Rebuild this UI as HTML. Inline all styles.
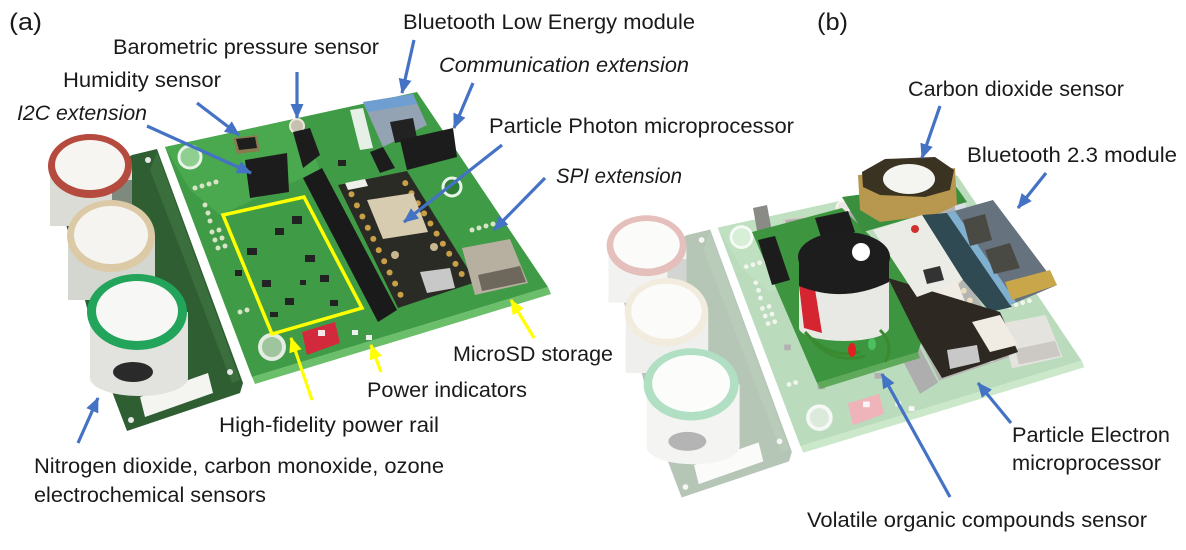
<!DOCTYPE html>
<html><head><meta charset="utf-8"><style>
html,body{margin:0;padding:0;background:#fff;}
svg{display:block}
text{font-family:"Liberation Sans",sans-serif;font-size:21px;fill:#1a1a1a}
.i{font-style:italic}
</style></head><body>
<svg width="1186" height="550" viewBox="0 0 1186 550" xmlns="http://www.w3.org/2000/svg">
<defs>
<marker id="mb" markerUnits="userSpaceOnUse" markerWidth="15" markerHeight="13" refX="14" refY="6.5" orient="auto"><path d="M0,0 L15,6.5 L0,13 z" fill="#4472c4"/></marker>
<marker id="my" markerUnits="userSpaceOnUse" markerWidth="15" markerHeight="13" refX="14" refY="6.5" orient="auto"><path d="M0,0 L15,6.5 L0,13 z" fill="#ffff00"/></marker>
</defs>
<rect width="1186" height="550" fill="#fff"/>

<g id="pa">
 <!-- sensor board -->
 <polygon points="132,155 157,149 243,383 240,393 127,431 100,360 60,200" fill="#2f5e33"/>
 <polygon points="150,170 157,152 240,380 232,383" fill="#3a6e3c"/>
 <polygon points="140,397 208,373 213,393 145,417" fill="#f4f4f0"/>
 <circle cx="230" cy="372" r="3" fill="#e8e8e8"/>
 <circle cx="131" cy="420" r="3" fill="#e8e8e8"/>
 <circle cx="148" cy="160" r="3" fill="#e8e8e8"/>
 <!-- main board -->
 <polygon points="252,377 548,287 551,294 255,384" fill="#6cbf6a"/>
 <polygon points="165,147 417,92 548,287 252,377" fill="#3f9b45"/>
 <polygon points="165,147 300,118 320,170 220,215 190,190" fill="#4aa84f"/>
 <circle cx="190" cy="157" r="11" fill="#8fcf8f" stroke="#e8f4e8" stroke-width="3"/>
 <circle cx="272" cy="347" r="12" fill="#9ec59e" stroke="#e4ece4" stroke-width="4"/>
 <circle cx="452" cy="187" r="9" fill="#2f7e35" stroke="#e8f4e8" stroke-width="3"/>
 <g fill="#d8e4c8"><circle cx="195" cy="188" r="2.5"/><circle cx="202" cy="186" r="2.5"/><circle cx="209" cy="184" r="2.5"/><circle cx="216" cy="182" r="2.5"/>
 <circle cx="205" cy="205" r="2.5"/><circle cx="208" cy="213" r="2.5"/><circle cx="210" cy="221" r="2.5"/>
 <circle cx="212" cy="232" r="2.5"/><circle cx="219" cy="230" r="2.5"/><circle cx="215" cy="240" r="2.5"/><circle cx="222" cy="238" r="2.5"/><circle cx="218" cy="248" r="2.5"/><circle cx="225" cy="246" r="2.5"/>
 <circle cx="240" cy="312" r="2.5"/><circle cx="247" cy="310" r="2.5"/><circle cx="472" cy="230" r="2.5"/><circle cx="479" cy="228" r="2.5"/><circle cx="486" cy="226" r="2.5"/><circle cx="493" cy="224" r="2.5"/></g>
 <!-- chips in power rail -->
 <g fill="#222">
  <rect x="247" y="248" width="10" height="7"/><rect x="275" y="228" width="9" height="7"/><rect x="292" y="216" width="10" height="8"/>
  <rect x="262" y="280" width="9" height="7"/><rect x="305" y="255" width="10" height="7"/><rect x="320" y="275" width="9" height="7"/>
  <rect x="285" y="298" width="9" height="7"/><rect x="330" y="300" width="8" height="6"/><rect x="300" y="280" width="6" height="5"/>
  <rect x="270" y="312" width="8" height="5"/><rect x="235" y="270" width="7" height="6"/><rect x="338" y="160" width="8" height="6"/>
 </g>
 <!-- humidity chip -->
 <polygon points="233,138 257,135 260,151 237,154" fill="#8a7a50"/>
 <polygon points="236,139 255,137 257,148 239,150" fill="#1e1e1e"/>
 <!-- baro -->
 <circle cx="297" cy="126" r="7" fill="#c8c0b0" stroke="#efe8dc" stroke-width="2"/>
 <!-- white strip -->
 <polygon points="350,110 363,108 373,148 360,150" fill="#e6f0e6"/>
 <!-- BLE module -->
 <polygon points="363,102 413,94 427,125 383,147" fill="#93a3b3"/>
 <polygon points="363,102 413,94 417,104 368,112" fill="#6f9ed0"/>
 <polygon points="390,122 413,118 417,138 395,143" fill="#222"/>
 <!-- headers -->
 <polygon points="400,140 453,128 457,157 407,170" fill="#1c1c1c"/>
 <polygon points="370,152 383,147 395,168 380,173" fill="#1c1c1c"/>
 <polygon points="245,160 287,153 289,192 250,198" fill="#1c1c1c"/>
 <polygon points="293,132 310,128 320,155 303,168" fill="#1c1c1c"/>
 <polygon points="303,178 322,168 397,310 378,322" fill="#1a1a1a"/>
 <!-- photon -->
 <polygon points="338,185 407,171 476,282 398,308" fill="#2b2b26"/>
 <g fill="#c9a046">
  <circle cx="351.5" cy="194.2" r="3"/><circle cx="356.9" cy="205.4" r="3"/><circle cx="362.4" cy="216.5" r="3"/><circle cx="367.8" cy="227.7" r="3"/><circle cx="373.3" cy="238.9" r="3"/><circle cx="378.7" cy="250.1" r="3"/><circle cx="384.2" cy="261.3" r="3"/><circle cx="389.6" cy="272.5" r="3"/><circle cx="395.1" cy="283.6" r="3"/><circle cx="400.5" cy="294.8" r="3"/>
  <circle cx="405.3" cy="183.1" r="3"/><circle cx="411.5" cy="193.2" r="3"/><circle cx="417.8" cy="203.3" r="3"/><circle cx="424.1" cy="213.4" r="3"/><circle cx="430.4" cy="223.5" r="3"/><circle cx="436.6" cy="233.6" r="3"/><circle cx="442.9" cy="243.7" r="3"/><circle cx="449.2" cy="253.8" r="3"/><circle cx="455.5" cy="263.9" r="3"/><circle cx="461.7" cy="274.0" r="3"/>
 </g>
 <polygon points="367,200 413,193 428,232 383,239" fill="#d7cbb0"/>
 <polygon points="345,183 365,179 368,186 348,190" fill="#eeeeea"/>
 <circle cx="395" cy="255" r="4" fill="#c8b890"/><circle cx="434" cy="247" r="4" fill="#c8b890"/>
 <polygon points="420,272 450,268 455,288 427,293" fill="#c8c8c8"/>
 <!-- microSD -->
 <polygon points="462,248 510,239 528,283 475,295" fill="#b7b0a0"/>
 <polygon points="478,275 520,266 526,282 482,291" fill="#6e685c"/>
 <!-- switch -->
 <polygon points="302,332 335,322 340,343 307,355" fill="#d22a3c"/>
 <rect x="318" y="330" width="7" height="6" fill="#f4e8e8"/>
 <rect x="352" y="330" width="6" height="5" fill="#f0f0f0"/>
 <rect x="366" y="335" width="6" height="5" fill="#f0f0f0"/>
 <!-- cylinders -->
 <rect x="50" y="166" width="82" height="60" fill="#dcdcd6"/>
 <rect x="112" y="180" width="20" height="40" fill="#7f8a7f"/>
 <ellipse cx="90" cy="166" rx="42" ry="32" fill="#b54a3e"/>
 <ellipse cx="90" cy="165" rx="35" ry="25" fill="#f6f5f2"/>
 <rect x="68" y="236" width="87" height="64" fill="#d4d6d0"/>
 <ellipse cx="111" cy="236" rx="44" ry="36" fill="#dccaa6"/>
 <ellipse cx="111" cy="235" rx="37" ry="29" fill="#f5f4f1"/>
 <rect x="90" y="312" width="98" height="66" fill="#e2e2de"/>
 <ellipse cx="139" cy="378" rx="49" ry="18" fill="#e2e2de"/>
 <ellipse cx="133" cy="372" rx="20" ry="10" fill="#2a2a2a"/>
 <ellipse cx="137" cy="312" rx="50" ry="38" fill="#22a55a"/>
 <ellipse cx="137" cy="311" rx="41" ry="30" fill="#f7f7f5"/>
</g>

<!-- yellow box -->
<polygon points="223,215 304,197 362,308 272,334" fill="none" stroke="#ffff00" stroke-width="3.5"/>

<!-- photo b: faded base -->
<use href="#pa" transform="translate(561,88) scale(0.95)" opacity="0.35"/>

<!-- photo b: top board -->
<polygon points="753,208 767,205 772,232 758,236" fill="#8a8a86"/>
<polygon points="817,383 918,352 920,358 820,389" fill="#5ea95a"/>
<polygon points="752,232 842,208 935,300 918,352 817,383" fill="#3d9540"/>
<polygon points="758,240 775,236 790,280 772,285" fill="#1c1c1c"/>
<polygon points="815,218 848,211 855,232 822,240" fill="#1c1c1c"/>
<!-- CO2 -->
<polygon points="842,197 953,182 967,202 863,232" fill="#3a8f3e"/>
<polygon points="858,175 955,168 957,205 935,215 880,222 860,210" fill="#b8984e"/>
<polygon points="862,172 885,159 935,157 954,170 950,190 925,197 880,195 863,187" fill="#3b3322"/>
<ellipse cx="909" cy="179" rx="26" ry="15" fill="#f4f4f0"/>
<!-- gap between u-blox and BT -->
<polygon points="922,215 947,213 1012,307 990,312 963,280" fill="#2f4a52"/>
<!-- BT module -->
<polygon points="947,213 993,200 1057,285 1010,305" fill="#66727e"/>
<polygon points="947,213 955,211 1016,302 1010,305" fill="#7fb0d0"/>
<polygon points="963,220 985,214 992,240 970,246" fill="#4a4a44"/>
<polygon points="985,250 1010,243 1020,268 994,274" fill="#4a4a44"/>
<polygon points="1005,282 1050,270 1057,285 1012,300" fill="#c9a64a"/>
<!-- electron -->
<polygon points="888,278 1000,312 1018,352 942,378 918,338" fill="#2d2822"/>
<polygon points="972,322 1000,315 1018,345 990,352" fill="#f0ece4"/>
<polygon points="947,350 977,345 980,362 950,369" fill="#c8c8c8"/>
<!-- u-blox -->
<polygon points="873,230 922,215 963,280 917,297" fill="#ecece6"/>
<circle cx="915" cy="229" r="4" fill="#d03030"/>
<polygon points="923,270 940,266 944,280 927,284" fill="#333"/>
<!-- VOC -->
<rect x="799" y="258" width="90" height="70" fill="#e8e8e4"/>
<ellipse cx="844" cy="328" rx="45" ry="13" fill="#e8e8e4"/>
<polygon points="799,285 814,283 822,333 804,328" fill="#d42530"/>
<path d="M799,258 L799,286 Q844,304 889,282 L889,258 z" fill="#1d1d1d"/>
<ellipse cx="844" cy="257" rx="46" ry="25" fill="#1d1d1d"/>
<circle cx="861" cy="252" r="9" fill="#ffffff"/>
<path d="M805,332 Q830,360 860,352 M812,340 Q835,365 865,356 M880,330 Q895,345 885,362" stroke="#3a8a30" stroke-width="3" fill="none"/>
<ellipse cx="852" cy="350" rx="4" ry="7" fill="#e02020"/>
<ellipse cx="872" cy="344" rx="4" ry="6" fill="#4cc060"/>

<!-- arrows -->
<g stroke="#4472c4" stroke-width="3.2" fill="none">
 <line x1="147" y1="126" x2="251" y2="173" marker-end="url(#mb)"/>
 <line x1="197" y1="103" x2="239" y2="135" marker-end="url(#mb)"/>
 <line x1="297" y1="72" x2="297" y2="118" marker-end="url(#mb)"/>
 <line x1="414" y1="40" x2="402" y2="93" marker-end="url(#mb)"/>
 <line x1="473" y1="83" x2="454" y2="128" marker-end="url(#mb)"/>
 <line x1="502" y1="145" x2="404" y2="222" marker-end="url(#mb)"/>
 <line x1="545" y1="178" x2="494" y2="230" marker-end="url(#mb)"/>
 <line x1="78" y1="443" x2="98" y2="398" marker-end="url(#mb)"/>
 <line x1="940" y1="106" x2="922" y2="158" marker-end="url(#mb)"/>
 <line x1="1046" y1="173" x2="1018" y2="208" marker-end="url(#mb)"/>
 <line x1="1011" y1="423" x2="978" y2="383" marker-end="url(#mb)"/>
 <line x1="950" y1="497" x2="882" y2="374" marker-end="url(#mb)"/>
</g>
<g stroke="#ffff00" stroke-width="3.2" fill="none">
 <line x1="312" y1="400" x2="291" y2="338" marker-end="url(#my)"/>
 <line x1="381" y1="372" x2="371" y2="345" marker-end="url(#my)"/>
 <line x1="534" y1="338" x2="511" y2="300" marker-end="url(#my)"/>
</g>

<!-- labels -->
<text x="9" y="30" style="font-size:24px" textLength="33" lengthAdjust="spacingAndGlyphs">(a)</text>
<text x="817" y="30" style="font-size:24px" textLength="31" lengthAdjust="spacingAndGlyphs">(b)</text>
<text x="403" y="29" textLength="292" lengthAdjust="spacingAndGlyphs">Bluetooth Low Energy module</text>
<text x="113" y="54" textLength="266" lengthAdjust="spacingAndGlyphs">Barometric pressure sensor</text>
<text x="439" y="72" class="i" textLength="250" lengthAdjust="spacingAndGlyphs">Communication extension</text>
<text x="63" y="87" textLength="158" lengthAdjust="spacingAndGlyphs">Humidity sensor</text>
<text x="17" y="120" class="i" textLength="130" lengthAdjust="spacingAndGlyphs">I2C extension</text>
<text x="489" y="133" textLength="305" lengthAdjust="spacingAndGlyphs">Particle Photon microprocessor</text>
<text x="556" y="183" class="i" textLength="126" lengthAdjust="spacingAndGlyphs">SPI extension</text>
<text x="453" y="361" textLength="160" lengthAdjust="spacingAndGlyphs">MicroSD storage</text>
<text x="367" y="397" textLength="160" lengthAdjust="spacingAndGlyphs">Power indicators</text>
<text x="219" y="432" textLength="220" lengthAdjust="spacingAndGlyphs">High-fidelity power rail</text>
<text x="34" y="473" textLength="410" lengthAdjust="spacingAndGlyphs">Nitrogen dioxide, carbon monoxide, ozone</text>
<text x="34" y="502" textLength="232" lengthAdjust="spacingAndGlyphs">electrochemical sensors</text>
<text x="908" y="96" textLength="216" lengthAdjust="spacingAndGlyphs">Carbon dioxide sensor</text>
<text x="967" y="162" textLength="210" lengthAdjust="spacingAndGlyphs">Bluetooth 2.3 module</text>
<text x="1012" y="442" textLength="158" lengthAdjust="spacingAndGlyphs">Particle Electron</text>
<text x="1012" y="470" textLength="149" lengthAdjust="spacingAndGlyphs">microprocessor</text>
<text x="807" y="527" textLength="340" lengthAdjust="spacingAndGlyphs">Volatile organic compounds sensor</text>
</svg>
</body></html>
